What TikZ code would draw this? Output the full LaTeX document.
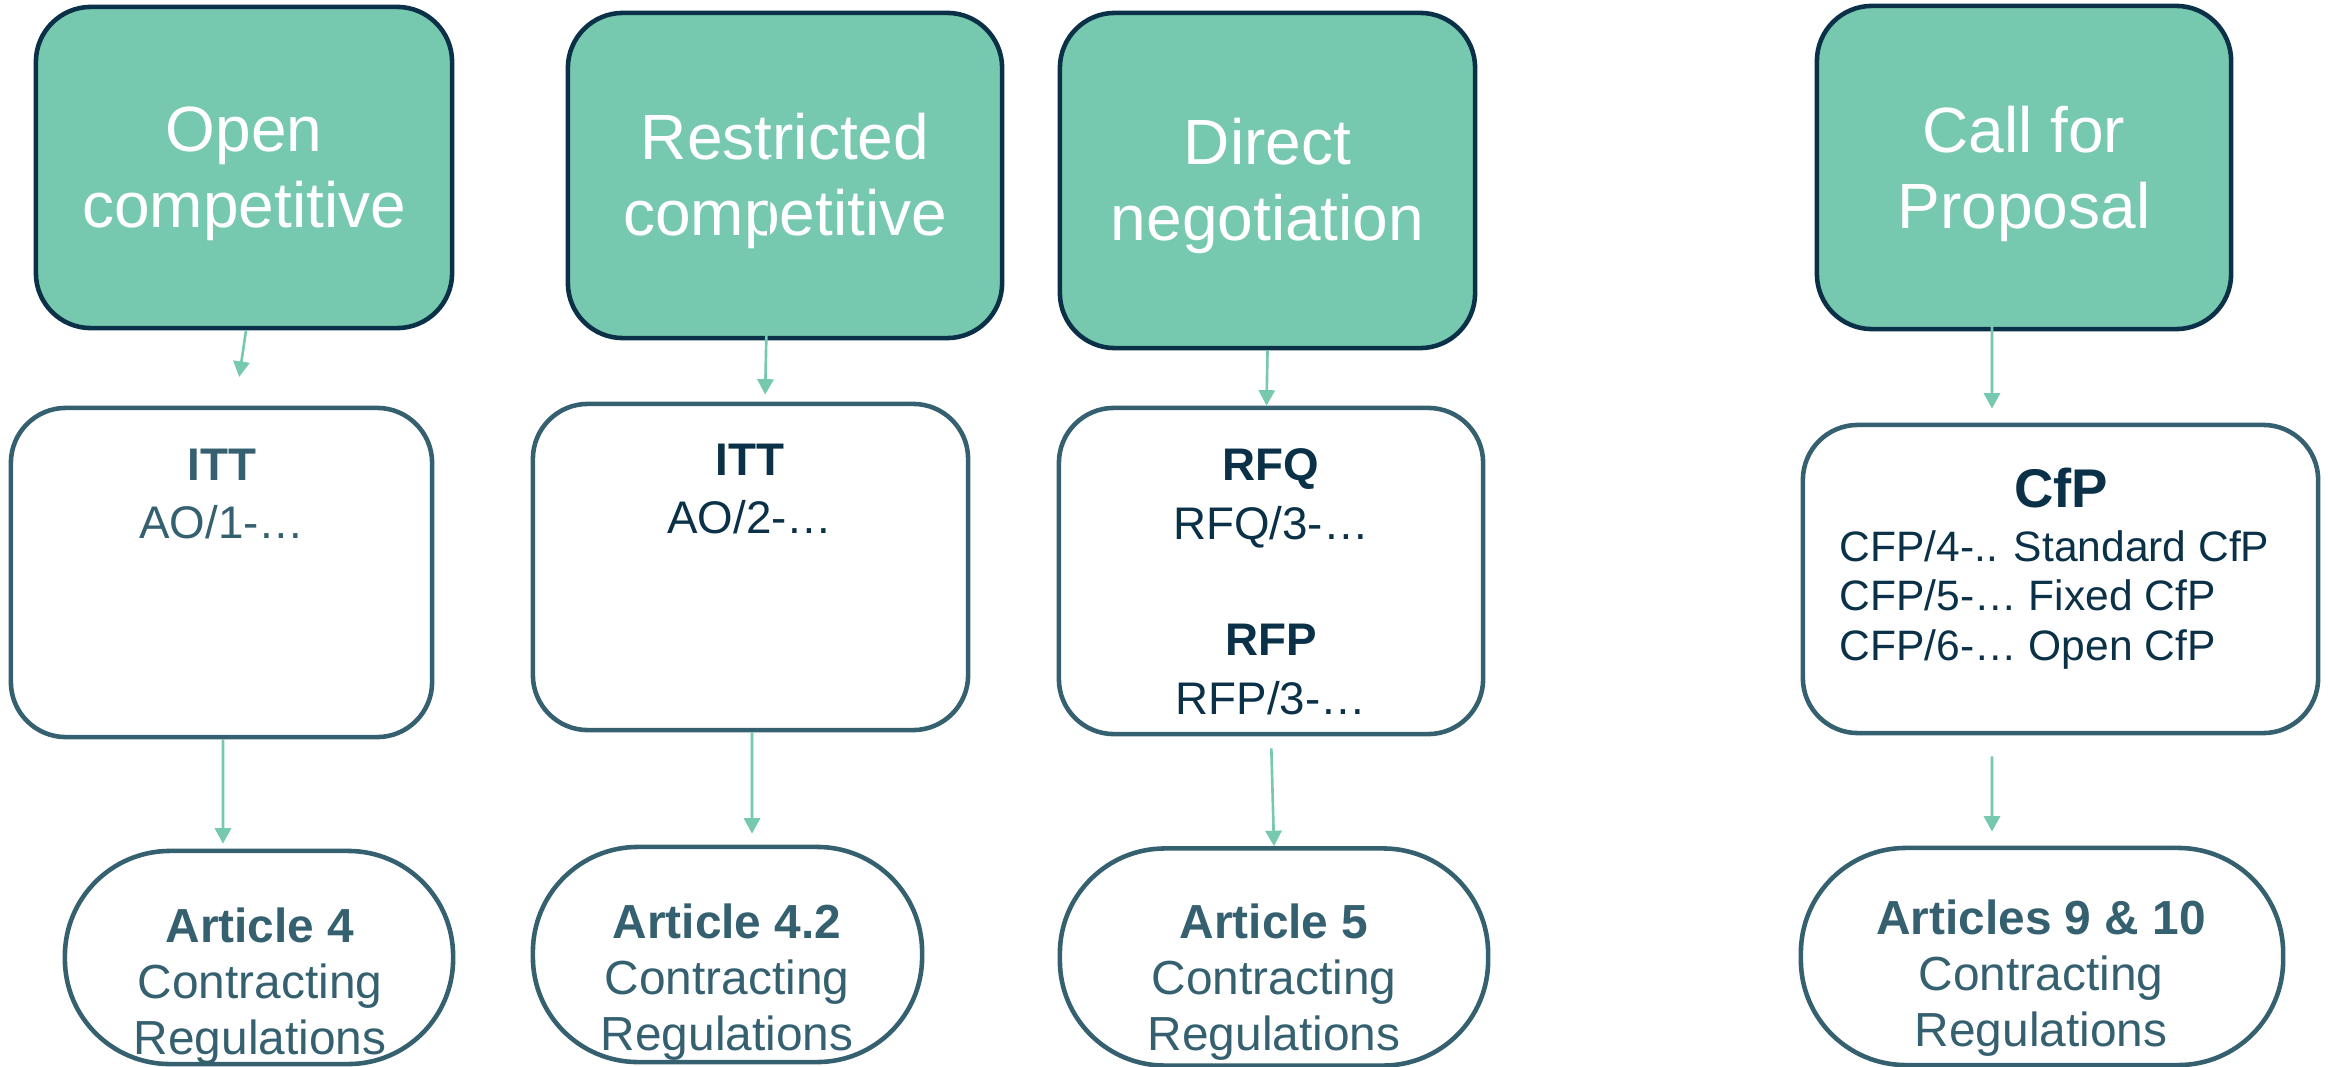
\documentclass[tikz,border=0pt]{standalone}
\usepackage{fontspec}
\setmainfont{Liberation Sans}
\usepackage{tikz}
\usetikzlibrary{arrows.meta}

\definecolor{mint}{HTML}{76C8AE}
\definecolor{navy}{HTML}{0B3148}
\definecolor{slate}{HTML}{35606F}

\tikzset{
  procbox/.style={draw=navy, fill=mint, line width=1.3pt, rounded corners=0.55cm},
  proctxt/.style={inner sep=0pt, text=white, align=center, font=\fontsize{18.2}{21.6}\selectfont},
  docbox/.style={draw=slate, fill=white, line width=1.3pt, rounded corners=0.55cm},
  regbox/.style={draw=slate, line width=1.3pt, rounded corners=1.05cm},
  doctxt/.style={anchor=north, inner sep=0pt, align=center, font=\fontsize{13}{16.6}\selectfont},
  regtxt/.style={anchor=north, inner sep=0pt, align=center, text=slate,
    font=\fontsize{13.6}{15.9}\selectfont},
  flow/.style={draw=mint, line width=0.75pt, -{Triangle[length=4.4pt,width=4.6pt]}}
}

\begin{document}
\begin{tikzpicture}[x=0.01cm, y=-0.01cm]
\useasboundingbox (0,0) rectangle (2328,1067);

% procedures
\node[procbox, minimum width=4.16cm, minimum height=3.21cm] (open) at (244,167.5) {};
\node[procbox, minimum width=4.34cm, minimum height=3.25cm] (restr) at (785,175.5) {};
\node[procbox, minimum width=4.15cm, minimum height=3.35cm] (direct) at (1267.5,180.5) {};
\node[procbox, minimum width=4.14cm, minimum height=3.23cm] (cfp) at (2024,167.5) {};

\node[proctxt] (opentxt) at ([yshift=-0.065cm]open.center) {Open\\competitive};
\node[proctxt] (restrtxt) at ([yshift=-0.055cm]restr.center) {Restricted\\competitive};
\node[proctxt] (directtxt) at ([yshift=-0.05cm]direct.center) {Direct\\negotiation};
\node[proctxt] (cfptxt) at ([yshift=-0.065cm]cfp.center) {Call for\\Proposal};

% documents
\node[docbox, minimum width=4.21cm, minimum height=3.29cm] (itt1) at (221.5,572.5) {};
\node[docbox, minimum width=4.35cm, minimum height=3.26cm] (itt2) at (750.5,567) {};
\node[docbox, minimum width=4.24cm, minimum height=3.26cm] (rfq) at (1271,571) {};
\node[docbox, minimum width=5.15cm, minimum height=3.08cm] (cfpdoc) at (2060.5,579) {};

\node[doctxt, text=slate] (itt1txt) at (222,448) {\textbf{ITT}\\AO/1-…};
\node[doctxt, text=navy] (itt2txt) at (750,443) {\textbf{ITT}\\AO/2-…};
\node[doctxt, text=navy] (rfqtxt) at (1271,448) {\textbf{RFQ}\\RFQ/3-…\\[16.6pt]\textbf{RFP}\\RFP/3-…};
\node[anchor=north, inner sep=0pt, text=navy, font=\bfseries\fontsize{15.5}{18}\selectfont] (cfptitle) at (2061,467) {CfP};
\node[anchor=north west, inner sep=0pt, align=left, text=navy, font=\fontsize{12.1}{14.2}\selectfont] (cfplist) at (1839,529.5)
  {CFP/4-.. Standard CfP\\CFP/5-… Fixed CfP\\CFP/6-… Open CfP};

% regulations
\node[regbox, minimum width=3.88cm, minimum height=2.13cm] (art4) at (259,957.5) {};
\node[regbox, minimum width=3.89cm, minimum height=2.15cm] (art42) at (727.5,954.5) {};
\node[regbox, minimum width=4.28cm, minimum height=2.17cm] (art5) at (1274,957) {};
\node[regbox, minimum width=4.82cm, minimum height=2.17cm] (art910) at (2042,956.5) {};

\node[regtxt] (art4txt) at (260,907) {\textbf{Article 4}\\Contracting\\Regulations};
\node[regtxt] (art42txt) at (727,903) {\textbf{Article 4.2}\\Contracting\\Regulations};
\node[regtxt] (art5txt) at (1274,903) {\textbf{Article 5}\\Contracting\\Regulations};
\node[regtxt] (art910txt) at (2041,899) {\textbf{Articles 9 \& 10}\\Contracting\\Regulations};

% arrows
\draw[flow, shorten >=0.29cm] ([xshift=0.02cm]open.south) -- ([xshift=0.135cm]itt1.north);
\draw[flow, shorten >=0.07cm] ([xshift=-0.15cm,yshift=0.185cm]restr.center) -- ([xshift=0.145cm]itt2.north);
\draw[flow] (direct.south) -- ([xshift=-0.045cm]rfq.north);
\draw[flow, shorten >=0.14cm] ([xshift=-0.32cm,yshift=-1.305cm]cfp.center) -- ([xshift=-0.685cm]cfpdoc.north);

\draw[flow, shorten >=0.05cm] ([xshift=0.015cm]itt1.south) -- ([xshift=-0.36cm]art4.north);
\draw[flow, shorten >=0.11cm] ([xshift=0.015cm]itt2.south) -- ([xshift=0.245cm]art42.north);
\draw[flow, shorten <=0.12cm] (rfq.south) -- (art5.north);
\draw[flow, shorten <=0.21cm, shorten >=0.14cm] ([xshift=-0.685cm]cfpdoc.south) -- ([xshift=-0.5cm]art910.north);
\end{tikzpicture}
\end{document}
